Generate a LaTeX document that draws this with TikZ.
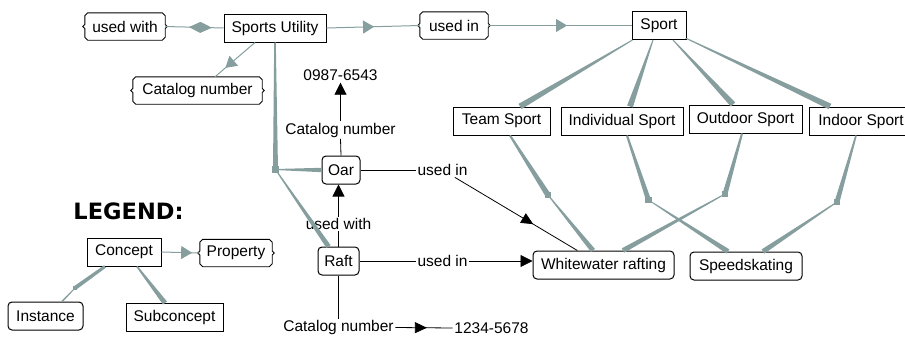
\documentclass[tikz,border=0pt]{standalone}
\usepackage{fontspec}
\setmainfont{Liberation Sans}
\newfontfamily\legendfont{DejaVu Sans}
\usetikzlibrary{calc,arrows.meta,decorations.markings}
\definecolor{linkgray}{RGB}{134,158,158}

% tapered link: thin (half width #3) at #1, wide (half width #4) at #2
\newcommand\drawtaper[4]{%
  \fill[linkgray] ($(#1)!#3!90:(#2)$) -- ($(#1)!#3!-90:(#2)$)
    -- ($(#2)!#4!90:(#1)$) -- ($(#2)!#4!-90:(#1)$) -- cycle;}

% brace-sided outline of a property node
\newcommand\propframe[1]{%
  \draw[line width=0.9pt]
    ($(#1.north west)+(3,0)$) -- ($(#1.north east)+(-3,0)$)
    -- ($(#1.north east)+(0,3)$) -- ($(#1.east)+(0,-2)$)
    -- ($(#1.east)+(2,0)$) -- ($(#1.east)+(0,2)$)
    -- ($(#1.south east)+(0,-3)$) -- ($(#1.south east)+(-3,0)$)
    -- ($(#1.south west)+(3,0)$) -- ($(#1.south west)+(0,-3)$)
    -- ($(#1.west)+(0,2)$) -- ($(#1.west)+(-2,0)$)
    -- ($(#1.west)+(0,-2)$) -- ($(#1.north west)+(0,3)$) -- cycle;}

\tikzset{
  basefont/.style={font=\fontsize{15.5}{17}\selectfont},
  concept/.style={basefont, draw, line width=1pt, fill=white,
    minimum height=28, inner xsep=2, inner ysep=0},
  inst/.style={concept, rounded corners=4pt},
  prop/.style={basefont, minimum height=27, inner xsep=2, inner ysep=0},
  txt/.style={basefont, inner sep=1.5},
  junction/.style={fill=linkgray, draw=none, minimum size=6, inner sep=0},
  glink/.style={draw=linkgray, line width=1pt},
  blink/.style={draw=black, line width=0.8pt},
  gmid/.style={postaction={decorate}, decoration={markings,
    mark=at position #1 with {\arrow[linkgray]{Triangle[length=11pt,width=13pt]}}}},
  gdiamond/.style={postaction={decorate}, decoration={markings,
    mark=at position #1 with {\arrow[linkgray]{Diamond[length=23pt,width=11pt]}}}},
  bmid/.style={postaction={decorate}, decoration={markings,
    mark=at position #1 with {\arrow[black]{Triangle[length=12pt,width=11pt]}}}},
  barrow/.style={-{Triangle[length=12pt,width=12pt]}}
}

\begin{document}
\begin{tikzpicture}[x=1pt,y=-1pt]
\useasboundingbox (0,0) rectangle (905,340);

% ---- concepts, instances and properties
\node[prop, minimum width=80]  (uw)      at (125,26.5)  {used with};
\node[concept, minimum width=102] (su)   at (275,28)    {Sports Utility};
\node[prop, minimum width=68]  (ui)      at (454,25.5)  {used in};
\node[concept, minimum width=54] (sport) at (659,25.5)  {Sport};
\node[prop, minimum width=129] (cn)      at (197.5,90.5) {Catalog number};

\node[concept, minimum width=97]  (team)    at (501.5,121) {Team Sport};
\node[concept, minimum width=122] (indiv)   at (622,121)   {Individual Sport};
\node[concept, minimum width=113] (outdoor) at (745.5,119) {Outdoor Sport};
\node[concept, minimum width=104] (indoor)  at (861,121)   {Indoor Sport};

\node[inst, minimum width=38]  (oar)   at (341,170)   {Oar};
\node[inst, minimum width=41]  (raft)  at (338.5,261) {Raft};
\node[inst, minimum width=141] (ww)    at (603.5,265) {Whitewater rafting};
\node[inst, minimum width=112] (skate) at (746,266)   {Speedskating};

% ---- instance slot labels and values
\node[txt] (num1) at (340.5,75.5)  {0987-6543};
\node[txt] (cn1)  at (340.5,130)   {Catalog number};
\node[txt] (ui1)  at (442.5,170)   {used in};
\node[txt] (uw1)  at (338.5,224)   {used with};
\node[txt] (ui2)  at (442.5,261)   {used in};
\node[txt] (cn2)  at (338.5,327.5) {Catalog number};
\node[txt] (num2) at (491.5,328)   {1234-5678};

% ---- legend
\node[font=\legendfont\bfseries\fontsize{22.5}{24}\selectfont, inner sep=0]
  (legend) at (128.5,211) {LEGEND:};
\node[concept, minimum width=74] (concept)  at (124,252)   {Concept};
\node[prop, minimum width=72]    (property) at (236,253)   {Property};
\node[inst, minimum width=75]    (instance) at (45.5,316)  {Instance};
\node[concept, minimum width=97] (subc)     at (174.5,317.5) {Subconcept};

% ---- junction squares
\node[junction] (jsu)      at (275.5,169.5) {};
\node[junction] (jteam)    at (548,195)     {};
\node[junction] (jindiv)   at (648.5,200)   {};
\node[junction] (joutdoor) at (725,194)     {};
\node[junction] (jindoor)  at (837,202)     {};
\node[junction, minimum size=4] (jleg) at (75,288) {};

\propframe{uw}
\propframe{ui}
\propframe{cn}
\propframe{property}

% ---- property links (gray)
\draw[glink, gdiamond=0.8] (uw.east) -- (su.west);
\draw[glink, gmid=0.51] (su.east) -- (ui.west);
\draw[glink, gmid=0.55] (ui.east) -- (sport.west);
\coordinate (suA) at ($(su.south)+(-20,0)$);
\coordinate (cnA) at ($(cn.north)+(17.5,0)$);
\draw[glink, gmid=0.74] (suA) -- (cnA);
\draw[glink, gmid=0.8] (concept.east) -- (property.west);

% ---- tapered concept links
\coordinate (sT) at ($(sport.south west)+(1,0)$);
\coordinate (sI) at ($(sport.south)+(-6,0)$);
\coordinate (sO) at ($(sport.south)+(14,0)$);
\coordinate (sN) at ($(sport.south east)+(-1,-2)$);
\coordinate (tT) at ($(team.north)+(18.5,0)$);
\coordinate (tI) at ($(indiv.north)+(8,0)$);
\coordinate (tO) at ($(outdoor.north)+(-12.5,0)$);
\coordinate (tN) at ($(indoor.north)+(-31,0)$);
\drawtaper{sT}{tT}{0.5pt}{3pt}
\drawtaper{sI}{tI}{0.5pt}{3pt}
\drawtaper{sO}{tO}{0.5pt}{3pt}
\drawtaper{sN}{tN}{0.5pt}{3pt}

\coordinate (bT) at ($(team.south)+(8.5,0)$);
\coordinate (bI) at ($(indiv.south)+(5,0)$);
\coordinate (bO) at ($(outdoor.south)+(-3.5,0)$);
\coordinate (bN) at ($(indoor.south)+(-5,0)$);
\drawtaper{bT}{jteam}{1pt}{2.8pt}
\drawtaper{bI}{jindiv}{1pt}{2.5pt}
\drawtaper{bO}{joutdoor}{1pt}{2.5pt}
\drawtaper{bN}{jindoor}{0.8pt}{2.5pt}

\coordinate (wT) at ($(ww.north)+(-10.5,0)$);
\coordinate (wO) at ($(ww.north)+(19.5,0)$);
\coordinate (kI) at ($(skate.north)+(-18,0)$);
\coordinate (kN) at ($(skate.north)+(17,0)$);
\drawtaper{jteam}{wT}{0.5pt}{2.5pt}
\drawtaper{joutdoor}{wO}{0.5pt}{2.5pt}
\drawtaper{jindiv}{kI}{0.4pt}{2.5pt}
\drawtaper{jindoor}{kN}{0.5pt}{2.5pt}

% instance links from Sports Utility
\drawtaper{su.south}{jsu}{0.8pt}{2.5pt}
\drawtaper{jsu}{oar.west}{0.5pt}{2.2pt}
\coordinate (rA) at ($(raft.north)+(-10,0)$);
\drawtaper{jsu}{rA}{0.5pt}{2.5pt}

% legend links
\coordinate (cI) at ($(concept.south)+(-19,0)$);
\coordinate (cS) at ($(concept.south)+(13,0)$);
\coordinate (iA) at ($(instance.north)+(16.5,0)$);
\coordinate (sA) at ($(subc.north)+(-9.5,0)$);
\drawtaper{cI}{jleg}{1.5pt}{2pt}
\drawtaper{jleg}{iA}{0.5pt}{0.8pt}
\drawtaper{cS}{sA}{0.8pt}{2.5pt}

% redraw the junction squares above the links
\fill[linkgray] (jsu.north west) rectangle (jsu.south east);
\fill[linkgray] (jteam.north west) rectangle (jteam.south east);
\fill[linkgray] (jindiv.north west) rectangle (jindiv.south east);
\fill[linkgray] (joutdoor.north west) rectangle (joutdoor.south east);
\fill[linkgray] (jindoor.north west) rectangle (jindoor.south east);
\fill[linkgray] (jleg.north west) rectangle (jleg.south east);

% ---- instance slots (black)
\draw[blink] (oar.north) -- (cn1.south);
\draw[blink, barrow] (cn1.north) -- (num1.south);
\draw[blink] (oar.east) -- (ui1.west);
\draw[blink, bmid=0.64] (ui1) -- (ww.151);
\draw[blink] (raft.north) -- (uw1.south);
\draw[blink, barrow] (uw1.north) -- (uw1.north |- oar.south);
\draw[blink] (raft.east) -- (ui2.west);
\draw[blink, barrow] (ui2.east) -- (ui2.east -| ww.west);
\draw[blink] (raft.south) -- (cn2.north);
\draw[blink, bmid=0.55] (cn2.east) -- (num2.west);
\end{tikzpicture}
\end{document}
